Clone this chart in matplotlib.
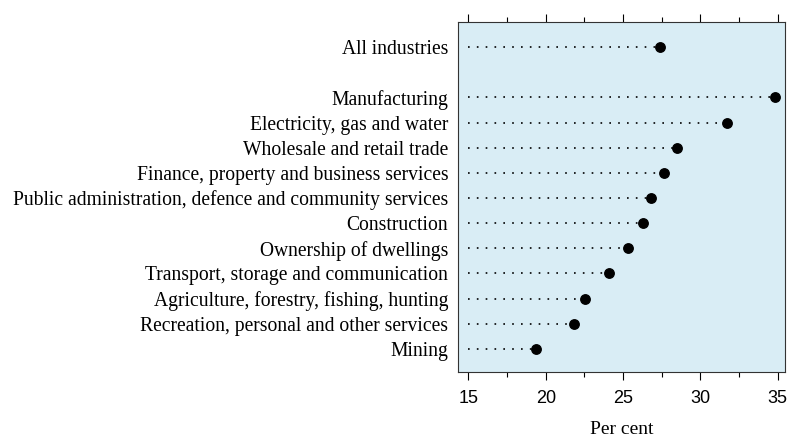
import numpy as np
import matplotlib
matplotlib.use("Agg")
from matplotlib import pyplot as plt
from matplotlib.ticker import MultipleLocator

industries = ['Mining',
              'Recreation, personal and other services',
              'Agriculture, forestry, fishing, hunting',
              'Transport, storage and communication',
              'Ownership of dwellings',
              'Construction',
              'Public administration, defence and community services',
              'Finance, property and business services',
              'Wholesale and retail trade',
              'Electricity, gas and water',
              'Manufacturing',
              'All industries']
values = [19.36, 21.85, 22.56, 24.10, 25.30, 26.31, 26.79, 27.65, 28.47, 31.70, 34.83, 27.39]
# row positions: blank row between Manufacturing and All industries
rows = [0, 1, 2, 3, 4, 5, 6, 7, 8, 9, 10, 12]
x_start = 15
xticks = [15, 20, 25, 30, 35]

fig = plt.figure(figsize=(7.89, 4.38), dpi=100)
ax = fig.add_axes([0.5805, 0.1507, 0.4145, 0.7991])
ax.set_facecolor('#d9edf5')

for r, v in zip(rows, values):
    ax.plot([x_start, v], [r, r], color='black', lw=1.2, linestyle=(0, (1, 4.3)))
ax.plot(values, rows, 'o', color='black', markersize=6.8)

ax.set_xlim(14.33, 35.47)
ax.set_ylim(-0.92, 13.0)
ax.set_xticks(xticks)
ax.xaxis.set_minor_locator(MultipleLocator(2.5))
ax.tick_params(axis='x', which='both', top=True, bottom=True, direction='out', width=0.8)
ax.tick_params(axis='x', which='major', length=6, labelsize=13, pad=7)
ax.tick_params(axis='x', which='minor', length=3.5)
for lab in ax.get_xticklabels():
    lab.set_fontfamily('Liberation Sans')

ax.set_yticks(rows)
ax.set_yticklabels(industries, fontfamily='Liberation Serif', fontsize=14.1)
ax.tick_params(axis='y', length=0, pad=7)

ax.set_xlabel('Per cent', fontfamily='Liberation Serif', fontsize=14, labelpad=10)

for s in ax.spines.values():
    s.set_linewidth(0.8)
    s.set_color('#333333')

plt.savefig('out.png', dpi=100)
